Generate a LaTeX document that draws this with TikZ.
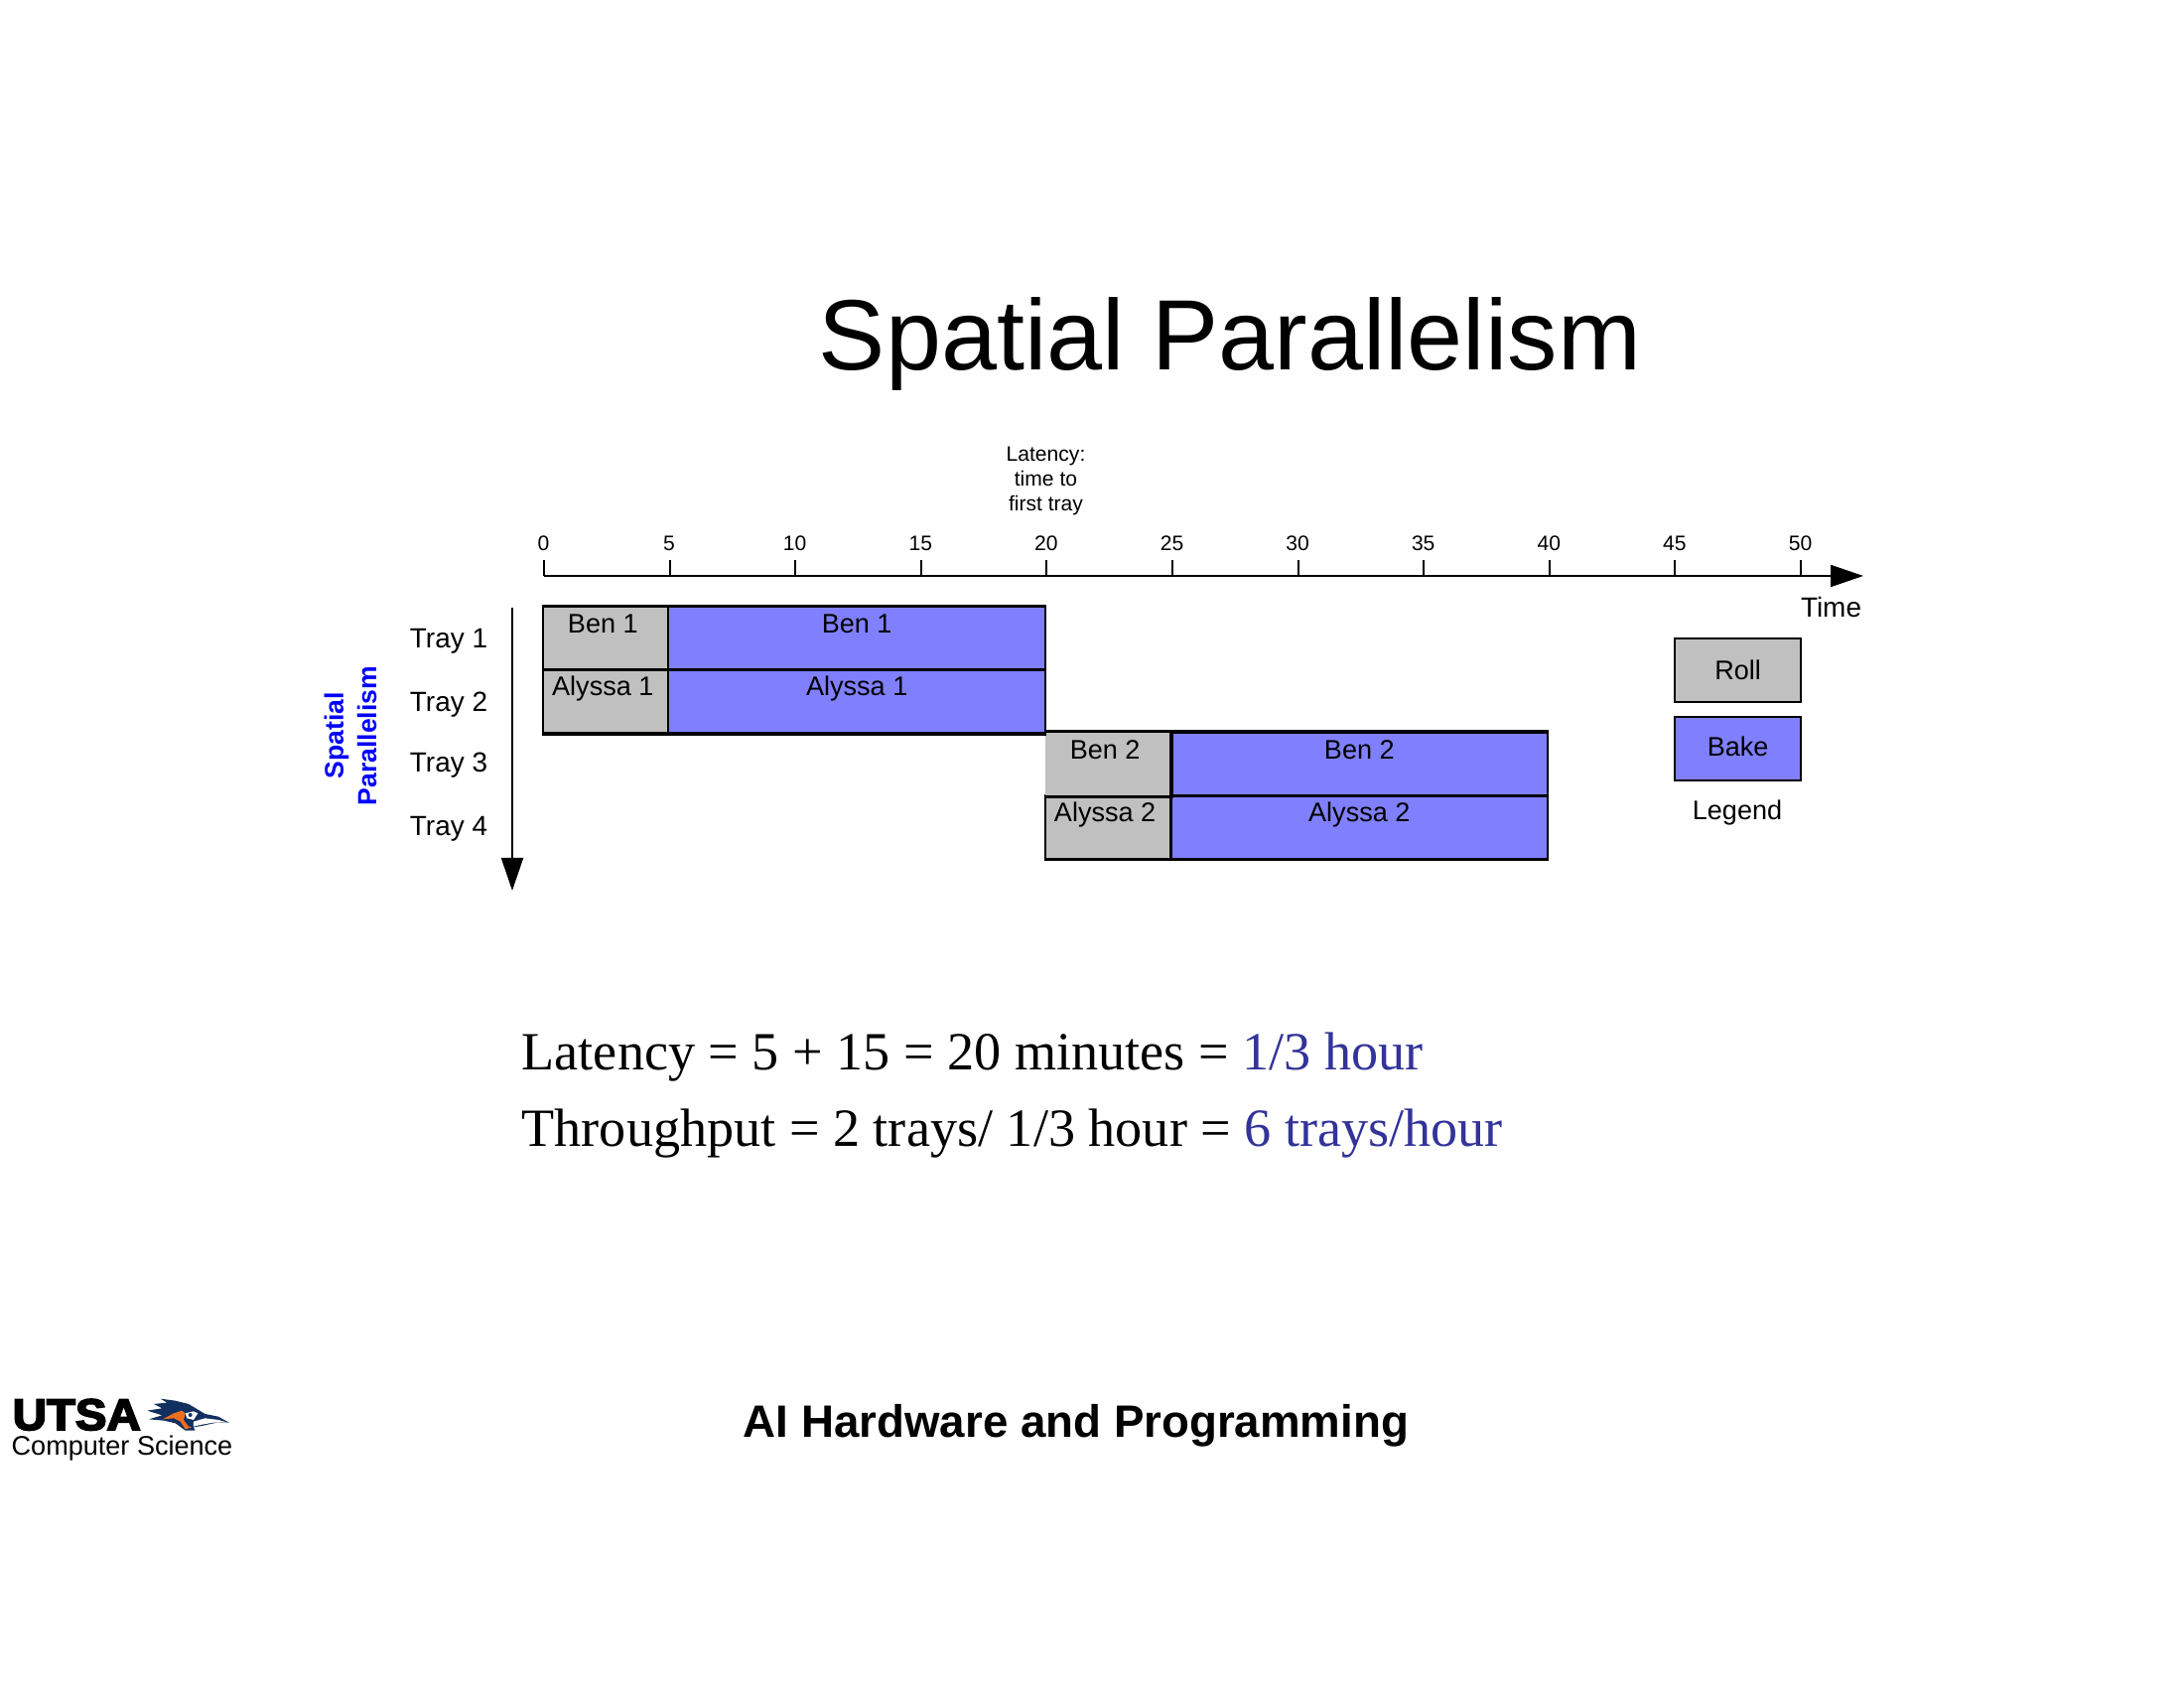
\documentclass[tikz,border=0pt]{standalone}
\usepackage{fontspec}
\usepackage{xcolor}
\setmainfont{Liberation Sans}
\newfontfamily\eqnfont{Liberation Serif}
\newfontfamily\logofont[FakeBold=4]{Liberation Sans Bold}
\usetikzlibrary{arrows.meta,positioning}
\definecolor{rollG}{RGB}{192,192,192}
\definecolor{bakeB}{RGB}{128,128,255}
\definecolor{valB}{RGB}{51,51,153}
\definecolor{birdN}{RGB}{18,48,95}
\definecolor{birdO}{RGB}{236,110,30}
\newcommand{\nudged}[1]{\kern-0.3mm #1\kern0.3mm}

\begin{document}
\begin{tikzpicture}[>={Triangle[length=3.3mm,width=2.2mm]},
  ax/.style={draw=black, line width=0.55pt},
  tick/.style={font=\fontsize{6}{7}\selectfont, anchor=base},
  tray/.style={font=\fontsize{7.95}{9}\selectfont, anchor=base west},
  cell/.style={rectangle, line width=0.65pt, inner sep=0pt, minimum height=6.34mm,
               text height=2.62mm, text depth=3.72mm, font=\fontsize{7.7}{9}\selectfont},
  roll/.style={cell, fill=rollG, draw=black, minimum width=12.66mm},
  bake/.style={cell, fill=bakeB, draw=black, minimum width=37.98mm},
  key/.style={rectangle, draw=black, line width=0.65pt, inner sep=0pt, minimum width=12.66mm,
              minimum height=6.4mm, font=\fontsize{7.7}{9}\selectfont},
  eqn/.style={font=\eqnfont\fontsize{15.42}{18}\selectfont, anchor=base west, inner sep=0pt}]
  \useasboundingbox (0,0) rectangle (22,17);
  \node[font=\fontsize{28.65}{32}\selectfont, anchor=base] (title) at (12.39,13.27) {Spatial Parallelism};
  % time axis
  \coordinate (t0) at (5.48,11.2);
  \coordinate (tend) at (18.77,11.2);
  \draw[ax, ->] (t0) -- (tend);
  \foreach \t in {0,5,...,50} {
    \draw[ax] ({5.48+\t*0.2532},11.2) -- ++(0,0.16);
    \node[tick] (num\t) at ({5.475+\t*0.2532},11.455) {\t};
  }
  \node[font=\fontsize{7.95}{9}\selectfont] (time) at (18.445,10.885) {Time};
  \node[align=center, font=\fontsize{6}{7.1}\selectfont] (lat) at (10.535,12.16) {Latency:\\ time to\\ first tray};
  % tray axis
  \coordinate (y0) at (5.16,10.88);
  \coordinate (yend) at (5.16,8.03);
  \draw[ax, ->] (y0) -- (yend);
  \node[rotate=90, align=center, text=blue, font=\bfseries\fontsize{7.55}{9.4}\selectfont] (spar) at (3.53,9.59) {Spatial\\ Parallelism};
  \node[tray] (tr1) at (4.005,10.47) {Tray 1};
  \node[tray] (tr2) at (4.005,9.83) {Tray 2};
  \node[tray] (tr3) at (4.005,9.22) {Tray 3};
  \node[tray] (tr4) at (4.005,8.58) {Tray 4};
  % bars
  \node[roll] (r1) at (6.103,10.571) {\nudged{Ben 1}};
  \node[bake] (b1) at (8.632,10.571) {Ben 1};
  \node[roll] (r2) at (6.103,9.937) {\nudged{Alyssa 1}};
  \node[bake] (b2) at (8.632,9.937) {Alyssa 1};
  \node[roll] (r4) at (11.161,8.669) {\nudged{Alyssa 2}};
  \node[bake] (b4) at (13.693,8.669) {Alyssa 2};
  \node[roll, draw=none] (r3) at (11.161,9.303) {\nudged{Ben 2}};
  \node[bake] (b3) at (13.693,9.303) {Ben 2};
  \draw[line width=0.65pt] (r3.north west) -- (r3.north east) -- (r3.south east) -- (r3.south west);
  \draw[line width=0.85pt] (r1.north west) -- (b1.north east);
  \draw[line width=0.85pt] (r2.south west) -- (b2.south east);
  \draw[line width=0.85pt] (r3.north west) -- (b3.north east);
  \draw[line width=0.85pt] (r4.south west) -- (b4.south east);
  % legend
  \node[key, fill=rollG] (kr) at (17.506,10.25) {Roll};
  \node[key, fill=bakeB] (kb) at (17.506,9.46) {\raisebox{1.2pt}{Bake}};
  \node[font=\fontsize{7.7}{9}\selectfont] (leg) at (17.5,8.81) {Legend};
  % results
  \node[eqn] (eq1) at (5.25,6.22) {Latency = 5 + 15 = 20 minutes = \textcolor{valB}{1/3 hour}};
  \node[eqn] (eq2) at (5.25,5.45) {Throughput = 2 trays/ 1/3 hour = \textcolor{valB}{6 trays/hour}};
  \node[font=\bfseries\fontsize{13}{15}\selectfont] (foot) at (10.84,2.645) {AI Hardware and Programming};
  % logo
  \node[font=\logofont\fontsize{12.6}{14}\selectfont, anchor=base west, inner sep=0pt, xscale=1.07] (utsa) at (0.12,2.6) {UTSA};
  \node[font=\fontsize{7.7}{9}\selectfont, anchor=base west, inner sep=0pt] (cs) at (0.11,2.35) {Computer Science};
  \begin{scope}[shift={(1.4,3)}, x=0.03333mm, y=-0.03333mm]
    \fill[birdN] (45,42) -- (85,38) -- (65,26) -- (110,32) -- (150,42) -- (180,60) -- (200,72) -- (240,80)
      -- (272,98) -- (235,98) -- (190,108) -- (165,112) -- (170,122) -- (140,122) -- (110,100) -- (75,92)
      -- (30,88) -- (70,76) -- (25,62) -- (70,55) -- cycle;
    \fill[birdO] (72,88) -- (105,70) -- (130,62) -- (140,70) -- (135,90) -- (150,110) -- (160,112)
      -- (140,118) -- (125,95) -- (105,85) -- cycle;
    \fill[white] (140,70) -- (165,64) -- (178,70) -- (165,90) -- (145,85) -- cycle;
    \fill[birdN] (155,75) circle (6);
    \fill[white] (165,95) -- (200,85) -- (240,90) -- (265,97) -- (225,98) -- (185,105) -- (165,110) -- cycle;
  \end{scope}
\end{tikzpicture}
\end{document}
